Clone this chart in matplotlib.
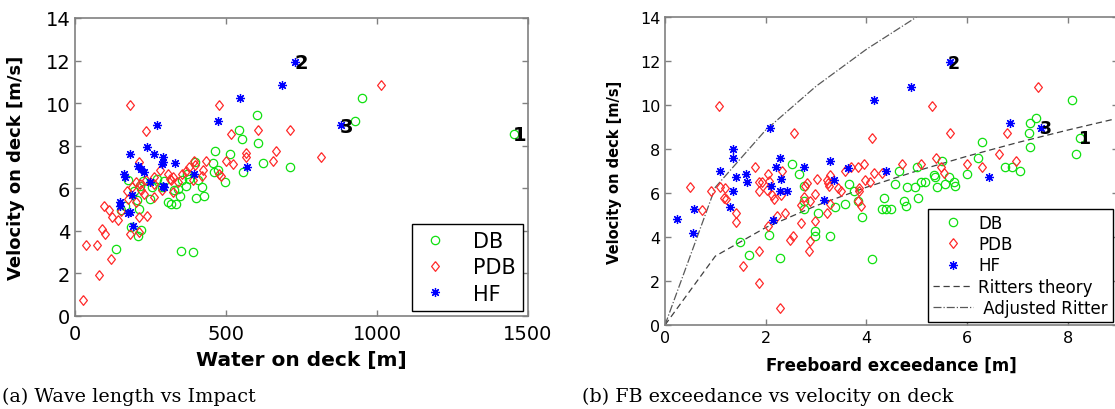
import matplotlib
matplotlib.use("Agg")
from matplotlib import pyplot as plt

# ---- panel (a): water on deck vs velocity ----
db_wod = [1453, 951, 926, 602, 605, 543, 553, 463, 512, 624, 712, 555, 458, 461, 475, 496,
          399, 407, 422, 372, 354, 309, 319, 333, 348, 402, 428, 351, 391, 136, 207, 218,
          187, 213, 204, 151, 177, 195, 272, 289, 224, 248, 165, 216, 342, 366, 295, 328,
          376, 254]
db_vel = [8.53, 10.23, 9.14, 9.42, 8.13, 8.76, 8.32, 7.77, 7.60, 7.18, 6.99, 6.76, 7.18, 6.76,
          6.84, 6.29, 7.23, 6.37, 6.08, 6.68, 6.37, 5.35, 5.24, 5.27, 5.63, 5.54, 5.62, 3.07,
          2.99, 3.16, 3.75, 4.05, 4.18, 5.04, 5.43, 4.96, 6.37, 5.85, 6.44, 6.05, 6.32, 5.51,
          5.19, 6.13, 5.98, 6.13, 6.32, 5.90, 6.44, 6.08]

pdb_wod = [1012, 182, 477, 236, 605, 713, 515, 816, 667, 655, 565, 565, 500, 523, 435, 393,
           399, 376, 366, 354, 484, 425, 420, 213, 283, 313, 319, 325, 307, 342, 390, 263,
           260, 236, 215, 201, 189, 171, 218, 230, 325, 260, 289, 177, 201, 97, 112, 124,
           142, 213, 239, 89, 100, 183, 213, 38, 73, 118, 81, 28, 478, 153]
pdb_vel = [10.86, 9.92, 9.92, 8.71, 8.74, 8.74, 8.53, 7.46, 7.77, 7.30, 7.65, 7.46, 7.30, 7.15,
           7.30, 7.30, 7.10, 6.99, 6.79, 6.68, 6.60, 6.84, 6.60, 7.23, 6.88, 6.44, 6.37, 6.52,
           6.68, 6.29, 6.37, 6.52, 6.21, 6.37, 6.21, 6.29, 6.05, 5.85, 5.90, 5.74, 5.82, 5.58,
           5.90, 5.51, 5.35, 5.19, 4.96, 4.65, 4.49, 4.65, 4.72, 4.07, 3.86, 3.86, 3.94, 3.35,
           3.32, 2.69, 1.91, 0.74, 6.65, 4.93]

hf_wod = [727, 687, 547, 472, 272, 881, 239, 183, 261, 292, 292, 331, 289, 210, 218, 227,
          163, 165, 395, 570, 248, 295, 291, 189, 148, 148, 177, 183, 192]
hf_vel = [11.92, 10.86, 10.23, 9.17, 8.98, 8.98, 7.96, 7.62, 7.62, 7.46, 7.23, 7.20, 7.12, 7.07,
          6.91, 6.76, 6.65, 6.52, 6.65, 7.01, 6.29, 6.05, 6.13, 5.69, 5.35, 5.19, 4.83, 4.88,
          4.21]

# ---- panel (b): freeboard exceedance vs velocity ----
db_fb = [8.09, 7.37, 7.26, 7.24, 7.26, 8.24, 8.17, 6.29, 6.21, 6.00, 6.75, 6.90, 7.05, 5.50,
         5.00, 4.64, 5.35, 5.37, 5.64, 5.74, 5.76, 5.57, 5.41, 5.17, 5.08, 4.97, 4.81, 4.57,
         5.02, 4.74, 4.78, 4.36, 4.32, 4.40, 4.49, 4.11, 3.91, 3.83, 3.76, 3.65, 3.58, 3.37,
         3.28, 3.04, 2.98, 2.98, 2.77, 2.77, 2.76, 2.66, 2.52, 2.29, 2.06, 1.66, 1.49]
db_vel_b = [10.23, 9.42, 9.17, 8.71, 8.11, 8.52, 7.76, 8.31, 7.61, 6.87, 7.16, 7.16, 7.01, 7.46,
            7.16, 7.01, 6.83, 6.72, 6.75, 6.49, 6.30, 6.40, 6.27, 6.49, 6.52, 6.27, 6.27, 6.40,
            5.77, 5.62, 5.39, 5.77, 5.27, 5.27, 5.27, 2.98, 4.89, 5.65, 6.10, 6.40, 5.50, 5.35,
            4.03, 5.09, 4.26, 4.06, 6.30, 5.29, 5.62, 6.87, 7.31, 3.05, 4.11, 3.17, 3.76]

pdb_fb = [7.41, 1.08, 5.31, 2.57, 5.66, 4.11, 6.79, 6.63, 6.97, 6.29, 6.00, 5.38, 5.48, 5.08,
          4.71, 5.55, 4.31, 4.15, 3.95, 3.83, 3.69, 3.58, 3.98, 4.08, 3.86, 3.85, 3.83, 3.90,
          3.50, 3.44, 3.28, 3.21, 3.23, 3.26, 3.28, 3.21, 3.02, 2.98, 2.98, 2.88, 2.82, 2.79,
          2.77, 2.71, 2.71, 2.88, 2.86, 2.54, 2.49, 2.39, 2.23, 2.05, 2.17, 2.12, 2.30, 2.32,
          2.05, 2.07, 1.92, 1.87, 2.02, 1.87, 1.78, 1.42, 1.42, 1.19, 1.18, 1.22, 1.09, 0.92,
          0.73, 0.49, 1.87, 1.87, 1.54, 2.28]
pdb_vel_b = [10.83, 9.95, 9.95, 8.71, 8.74, 8.52, 8.74, 7.78, 7.46, 7.16, 7.31, 7.61, 7.20, 7.31,
             7.31, 6.90, 6.90, 6.90, 7.31, 7.16, 7.20, 7.01, 6.60, 6.48, 6.22, 6.10, 5.62, 5.39,
             6.07, 6.25, 6.83, 6.60, 6.45, 6.30, 5.50, 5.09, 6.63, 5.95, 4.71, 5.62, 6.45, 6.30,
             5.80, 5.47, 4.64, 3.84, 3.38, 4.03, 3.85, 5.09, 4.94, 4.52, 5.74, 5.92, 5.92, 7.02,
             6.87, 6.55, 6.48, 6.52, 6.15, 6.07, 7.20, 5.09, 4.68, 6.22, 5.77, 5.72, 6.27, 6.07,
             5.21, 6.27, 3.35, 1.92, 2.70, 0.76]

hf_fb = [5.66, 4.88, 4.16, 2.09, 6.86, 7.47, 1.35, 1.36, 2.29, 3.28, 1.09, 2.76, 2.21, 3.63,
         4.40, 1.41, 1.61, 2.31, 1.62, 3.35, 2.11, 1.35, 2.28, 2.42, 3.16, 1.29, 0.57, 0.23,
         2.15, 0.56, 6.43]
hf_vel_b = [11.96, 10.83, 10.23, 8.94, 9.17, 8.94, 7.99, 7.61, 7.61, 7.46, 7.02, 7.16, 7.16, 7.13,
            7.01, 6.75, 6.87, 6.63, 6.49, 6.60, 6.30, 6.07, 6.07, 6.10, 5.69, 5.35, 5.27, 4.83,
            4.79, 4.17, 6.75]

# theory curves
ritter_fb = [0, 1, 2, 3, 4, 5, 6, 7, 8, 9]
ritter_vel = [0, 3.13, 4.43, 5.42, 6.26, 7.00, 7.67, 8.29, 8.86, 9.40]
adj_fb = [0, 1, 2, 3, 4, 5]
adj_vel = [0, 6.26, 8.86, 10.85, 12.53, 14.0]

labels_a = [("1", 1473, 8.51), ("2", 749, 11.92), ("3", 898, 8.92)]
labels_b = [("1", 8.32, 8.49), ("2", 5.74, 11.93), ("3", 7.56, 8.97)]

W, H = 1115, 410
fig = plt.figure(figsize=(W / 100, H / 100), dpi=100)

diamond = [(0, 1), (0.8, 0), (0, -1), (-0.8, 0), (0, 1)]
star = (8, 2, 0)
green, red, blue = "#10e010", "#ff2a2a", "#0000ff"


def style_axes(ax, fs):
    for sp in ax.spines.values():
        sp.set_color("0.5")
        sp.set_linewidth(1.2)
    ax.tick_params(direction="in", top=True, right=True, length=4, width=1,
                   color="0.5", labelcolor="black", labelsize=fs)


def scatter_sets(ax, sets):
    handles = []
    for xs, ys, mk, col, name, size in sets:
        h, = ax.plot(xs, ys, linestyle="none", marker=mk, markerfacecolor="none",
                     markeredgecolor=col, markeredgewidth=0.9, markersize=size,
                     label=name)
        handles.append(h)
    return handles


# ---------------- (a) ----------------
ax1 = fig.add_axes([75 / W, 1 - 317 / H, 453 / W, 298 / H])
scatter_sets(ax1, [
    (db_wod, db_vel, "o", green, "DB", 6.0),
    (pdb_wod, pdb_vel, diamond, red, "PDB", 7.0),
    (hf_wod, hf_vel, star, blue, "HF", 6.5),
])
for t, x, y in labels_a:
    ax1.text(x, y, t, fontsize=14, fontweight="bold", ha="center", va="center")
ax1.set_xlim(0, 1500)
ax1.set_ylim(0, 14)
ax1.set_xticks([0, 500, 1000, 1500])
ax1.set_yticks(range(0, 15, 2))
style_axes(ax1, 14)
ax1.tick_params(axis="x", pad=6)
ax1.set_xlabel("Water on deck [m]", fontsize=14.5, fontweight="bold")
ax1.set_ylabel("Velocity on deck [m/s]", fontsize=13, fontweight="bold")
ax1.xaxis.set_label_coords(0.5, -0.115)
ax1.yaxis.set_label_coords(-0.11, 0.5)
leg1 = ax1.legend(loc="lower right", bbox_to_anchor=(523 / W, 1 - 312 / H),
                  bbox_transform=fig.transFigure, fontsize=15, fancybox=False,
                  framealpha=1, edgecolor="black", borderpad=0.35, labelspacing=0.3,
                  handlelength=1.6, handletextpad=1.0, borderaxespad=0)
leg1.get_frame().set_linewidth(1.0)

# ---------------- (b) ----------------
ax2 = fig.add_axes([665 / W, 1 - 326 / H, 453 / W, 308 / H])
ax2.plot(ritter_fb, ritter_vel, linestyle="--", color="0.25", linewidth=0.9,
         dashes=(5, 3))
ax2.plot(adj_fb, adj_vel, linestyle="-.", color="0.35", linewidth=0.9)
hb = scatter_sets(ax2, [
    (db_fb, db_vel_b, "o", green, "DB", 6.0),
    (pdb_fb, pdb_vel_b, diamond, red, "PDB", 7.0),
    (hf_fb, hf_vel_b, star, blue, "HF", 6.5),
])
for t, x, y in labels_b:
    ax2.text(x, y, t, fontsize=12.5, fontweight="bold", ha="center", va="center")
ax2.set_xlim(0, 9)
ax2.set_ylim(0, 14)
ax2.set_xticks([0, 2, 4, 6, 8])
ax2.set_yticks(range(0, 15, 2))
style_axes(ax2, 11.5)
ax2.set_xlabel("Freeboard exceedance [m]", fontsize=12, fontweight="bold")
ax2.set_ylabel("Velocity on deck [m/s]", fontsize=10.5, fontweight="bold")
ax2.xaxis.set_label_coords(0.5, -0.1)
ax2.yaxis.set_label_coords(-0.095, 0.5)
l_r, = ax2.plot([], [], linestyle="--", color="0.25", linewidth=0.9, dashes=(5, 3))
l_a, = ax2.plot([], [], linestyle="-.", color="0.35", linewidth=0.9)
leg2 = ax2.legend(hb + [l_r, l_a],
                  ["DB", "PDB", "HF", "Ritters theory", " Adjusted Ritter"],
                  loc="lower right", bbox_to_anchor=(1113 / W, 1 - 323 / H),
                  bbox_transform=fig.transFigure, fontsize=12, fancybox=False,
                  framealpha=1, edgecolor="black", borderpad=0.3, labelspacing=0.2,
                  handlelength=2.4, handletextpad=0.3, borderaxespad=0)
leg2.get_frame().set_linewidth(1.0)

# captions
fig.text(2 / W, 1 - 397 / H, "(a) Wave length vs Impact", family="DejaVu Serif",
         fontsize=13.8, va="center", ha="left")
fig.text(582 / W, 1 - 397 / H, "(b) FB exceedance vs velocity on deck",
         family="DejaVu Serif", fontsize=13.8, va="center", ha="left")

fig.savefig("out.png", dpi=100)
